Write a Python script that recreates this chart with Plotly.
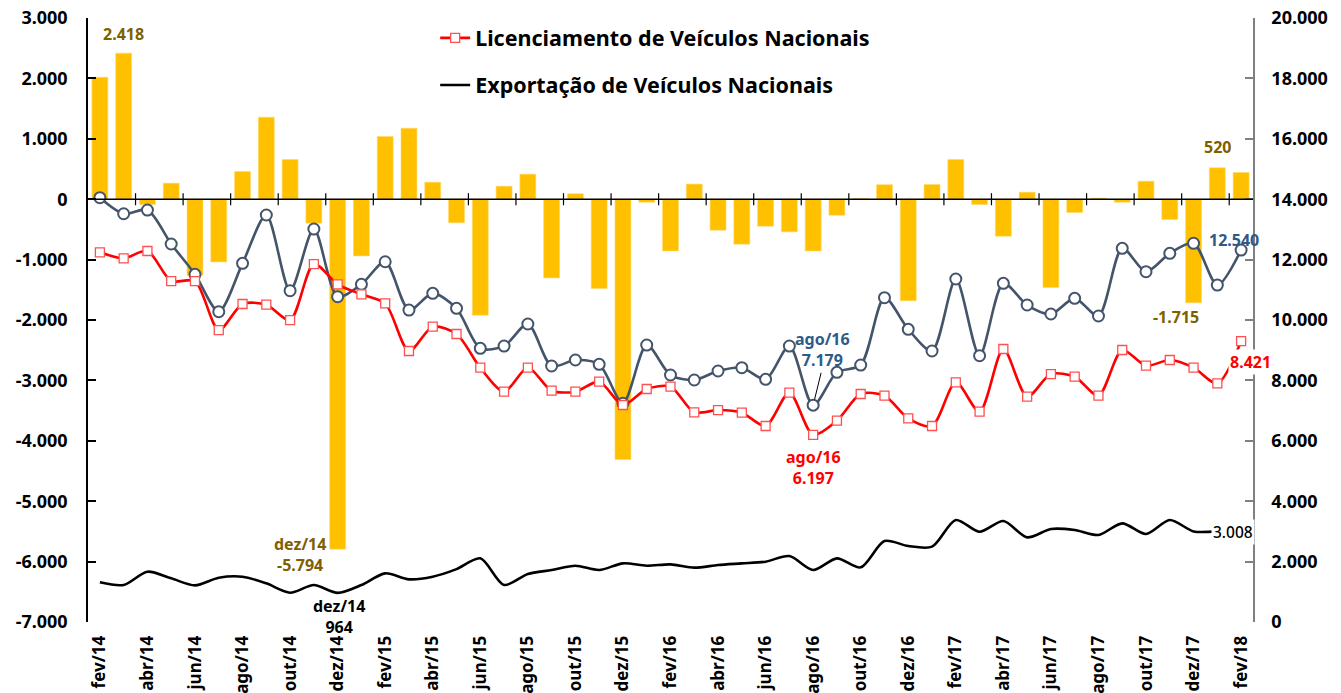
import plotly.graph_objects as go

categories = ["fev/14", "mar/14", "abr/14", "mai/14", "jun/14", "jul/14", "ago/14", "set/14", "out/14", "nov/14", "dez/14",
              "jan/15", "fev/15", "mar/15", "abr/15", "mai/15", "jun/15", "jul/15", "ago/15", "set/15", "out/15", "nov/15", "dez/15",
              "jan/16", "fev/16", "mar/16", "abr/16", "mai/16", "jun/16", "jul/16", "ago/16", "set/16", "out/16", "nov/16", "dez/16",
              "jan/17", "fev/17", "mar/17", "abr/17", "mai/17", "jun/17", "jul/17", "ago/17", "set/17", "out/17", "nov/17", "dez/17",
              "jan/18", "fev/18"]

# gold bars (left axis)
variacao = [2020, 2418, -88, 265, -1258, -1038, 458, 1358, 657, -397, -5794,
            -939, 1038, 1175, 281, -390, -1920, 215, 414, -1303, 90, -1479, -4309,
            -50, -856, 250, -513, -745, -447, -540, -856, -265, 10, 240, -1680,
            243, 657, -88, -613, 116, -1462, -220, 17, -50, 298, -336, -1715,
            520, 442]

# grey line with circles (right axis)
serie_cinza = [14049, 13519, 13641, 12516, 11512, 10275, 11876, 13476, 10970, 13012, 10771,
               11181, 11929, 10330, 10883, 10386, 9062, 9138, 9867, 8476, 8675, 8532, 7241,
               9171, 8178, 8013, 8311, 8420, 8035, 9138, 7179, 8268, 8509, 10738, 9691,
               8973, 11357, 8818, 11214, 10496, 10198, 10717, 10132, 12373, 11599, 12208, 12540,
               11158, 12317]

# red line with squares (right axis)
licenciamento = [12241, 12042, 12284, 11290, 11290, 9668, 10529, 10506, 9999, 11853, 11181,
                 10850, 10551, 8973, 9778, 9536, 8420, 7626, 8420, 7659, 7626, 7957, 7185,
                 7715, 7792, 6943, 7019, 6932, 6490, 7593, 6197, 6665, 7549, 7493, 6744,
                 6490, 7936, 6963, 9039, 7461, 8211, 8122, 7493, 9006, 8486, 8675, 8421,
                 7903, 9300]

# black line (right axis)
exportacao = [1314, 1225, 1666, 1446, 1214, 1468, 1501, 1280, 971, 1225, 964,
              1225, 1611, 1413, 1501, 1750, 2108, 1225, 1589, 1722, 1865, 1722, 1942,
              1865, 1909, 1799, 1887, 1942, 1998, 2185, 1722, 2108, 1810, 2682, 2516,
              2494, 3377, 2990, 3344, 2803, 3079, 3046, 2881, 3267, 2914, 3377, 3000,
              3008]

left_ticks = [-7000, -6000, -5000, -4000, -3000, -2000, -1000, 0, 1000, 2000, 3000]
right_ticks = [0, 2000, 4000, 6000, 8000, 10000, 12000, 14000, 16000, 18000, 20000]


def fmt(v):
    s = f"{abs(v):,}".replace(",", ".")
    return ("-" if v < 0 else "") + s


FONT = "Noto Sans"
OLIVE = "#7F6000"
BLUE = "#2E5A88"
RED = "#FF0000"
GREY = "#44546A"

fig = go.Figure()
fig.add_bar(x=categories, y=variacao, yaxis="y", marker=dict(color="#FFC000", line=dict(color="#FFD966", width=0.6)),
            showlegend=False, hoverinfo="skip")
fig.add_scatter(x=categories, y=serie_cinza, yaxis="y2", mode="lines+markers", showlegend=False,
                line=dict(color=GREY, width=2.6, shape="spline", smoothing=0.8),
                marker=dict(symbol="circle", size=11, color="white", line=dict(color=GREY, width=2)))
fig.add_scatter(x=categories, y=licenciamento, yaxis="y2", mode="lines+markers",
                name="Licenciamento de Veículos Nacionais", legend="legend",
                line=dict(color=RED, width=2.6, shape="spline", smoothing=0.8),
                marker=dict(symbol="square", size=9, color="white", line=dict(color="#FF5050", width=1.3)))
fig.add_scatter(x=categories[:len(exportacao)], y=exportacao, yaxis="y2", mode="lines",
                name="Exportação de Veículos Nacionais", legend="legend2",
                line=dict(color="black", width=2.6, shape="spline", smoothing=0.8))

shapes = [dict(type="line", xref="x", yref="y", x0=-0.5, x1=len(categories) - 0.5, y0=0, y1=0,
               line=dict(color="black", width=1.5), layer="above")]
for k in range(1, len(categories) - 1, 2):
    shapes.append(dict(type="line", xref="x", yref="y", x0=k + 0.5, x1=k + 0.5, y0=-100, y1=100,
                       line=dict(color="black", width=1.2), layer="above"))


def ann(text, x, y, yref, color, size=16, weight="bold", bg=None, **kw):
    d = dict(text=text, x=x, y=y, xref="x", yref=yref, showarrow=False,
             font=dict(family=FONT, size=size, color=color, weight=weight))
    if bg:
        d["bgcolor"] = bg
    d.update(kw)
    return d


annotations = [
    ann("2.418", 1, 2418, "y", OLIVE, yanchor="bottom", yshift=6),
    ann("dez/14<br>-5.794", 8.4, -5877, "y", OLIVE),
    ann("dez/14<br>964", 10.05, 166, "y2", "black"),
    ann("ago/16<br>7.179", 30.39, 9039, "y2", BLUE),
    ann("", 30, 7179, "y2", "black", showarrow=True, arrowhead=0, arrowwidth=1, arrowcolor="black",
        axref="x", ayref="y2", ax=30.35, ay=8300, standoff=6),
    ann("ago/16<br>6.197", 30, 5132, "y2", RED),
    ann("12.540", 47.7, 12648, "y2", BLUE),
    ann("-1.715", 45.28, -1954, "y", OLIVE),
    ann("8.421", 48.4, 8609, "y2", RED, bg="white"),
    ann("520", 47, 520, "y", OLIVE, yanchor="bottom", yshift=8),
    ann("3.008", 47.67, 2980, "y2", "black", size=15.5, weight=500, bg="white"),
]

fig.update_layout(
    width=1341, height=693,
    margin=dict(l=88, r=88, t=18, b=71, autoexpand=False),
    paper_bgcolor="white", plot_bgcolor="white",
    font=dict(family=FONT, color="black"),
    bargap=0.33,
    xaxis=dict(type="category", range=[-0.5, len(categories) - 0.5], tickvals=categories[::2], tickangle=-90,
               tickfont=dict(family=FONT, size=17, weight="bold", color="black"), automargin=False,
               showline=False, showgrid=False, zeroline=False,
               ticks="outside", ticklen=6, tickcolor="rgba(0,0,0,0)"),
    yaxis=dict(range=[-7000, 3000], tickvals=left_ticks, ticktext=[fmt(v) for v in left_ticks], automargin=False,
               showgrid=False, zeroline=False, showline=True, linecolor="black", linewidth=1.5,
               ticks="inside", ticklen=8, tickcolor="black", tickwidth=1.5,
               tickfont=dict(family=FONT, size=18, weight="bold", color="black"), ticklabelstandoff=15),
    yaxis2=dict(range=[0, 20000], overlaying="y", side="right", tickvals=right_ticks, automargin=False,
                ticktext=[fmt(v) for v in right_ticks],
                showgrid=False, zeroline=False, showline=True, linecolor="#808080", linewidth=1.5,
                ticks="inside", ticklen=8, tickcolor="#808080", tickwidth=1.5,
                tickfont=dict(family=FONT, size=18, weight="bold", color="black"), ticklabelstandoff=13),
    legend=dict(x=0.298, y=0.967, xanchor="left", yanchor="middle", bgcolor="rgba(0,0,0,0)",
                font=dict(family=FONT, size=21.5, weight="bold", color="black")),
    legend2=dict(x=0.298, y=0.889, xanchor="left", yanchor="middle", bgcolor="rgba(0,0,0,0)",
                 font=dict(family=FONT, size=21.5, weight="bold", color="black")),
    shapes=shapes,
    annotations=annotations,
)

fig.write_html("out.html", config={"displayModeBar": False},
               post_script="document.body.style.margin='0';document.body.style.overflow='hidden';")
